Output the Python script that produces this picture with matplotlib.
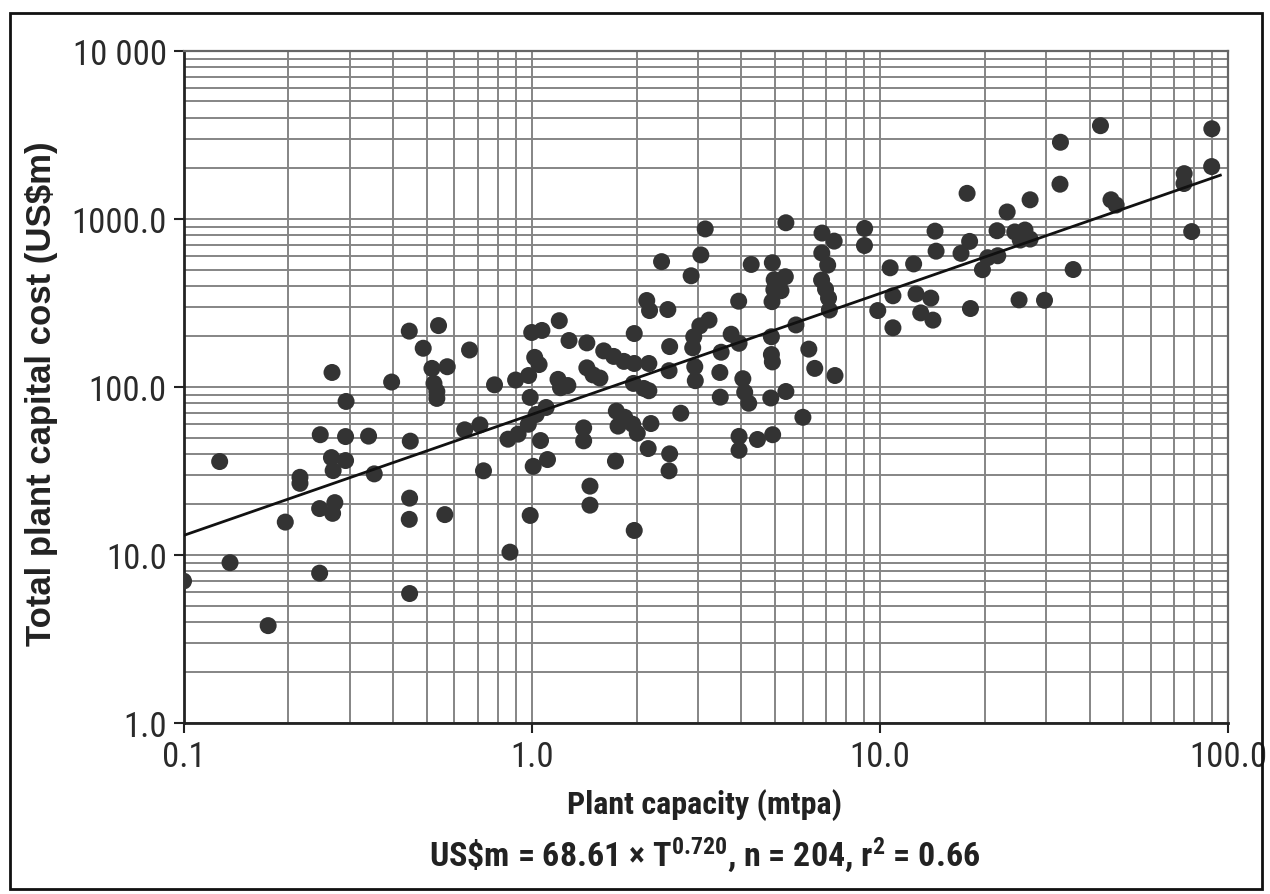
import numpy as np
import matplotlib
matplotlib.use("Agg")
import matplotlib.pyplot as plt
from matplotlib import font_manager as fm
from matplotlib.ticker import FixedLocator, LogLocator, NullFormatter
from matplotlib.patches import Rectangle

# ---------------- data ----------------
capacity = [
    0.10, 0.127, 0.136, 0.175, 0.196, 0.216, 0.216, 0.247, 0.246, 0.246,
    0.267, 0.266, 0.269, 0.272, 0.268, 0.293, 0.292, 0.292, 0.340, 0.353,
    0.396, 0.445, 0.448, 0.446, 0.445, 0.446, 0.488, 0.517, 0.524, 0.534,
    0.534, 0.540, 0.563, 0.572, 0.642, 0.663, 0.710, 0.727, 0.782, 0.855,
    0.866, 0.899, 0.914, 0.978, 0.98, 1.00, 0.99, 0.99, 1.01, 1.02,
    1.07, 1.05, 1.06, 1.03, 1.10, 1.11, 1.20, 1.19, 1.21, 1.27,
    1.28, 1.44, 1.41, 1.41, 1.44, 1.50, 1.57, 1.47, 1.47, 1.61,
    1.72, 1.75, 1.85, 1.95, 1.77, 2.01, 1.74, 1.84, 1.97, 1.97,
    1.96, 2.10, 2.17, 2.17, 1.97, 2.14, 2.18, 2.20, 2.16, 2.36,
    2.46, 2.49, 2.48, 2.49, 2.48, 2.68, 2.87, 3.06, 3.15, 2.94,
    2.92, 2.90, 2.95, 3.04, 3.23, 3.50, 3.47, 3.48, 3.74, 3.94,
    3.93, 3.94, 3.94, 4.04, 4.09, 4.20, 4.27, 4.45, 4.91, 4.97,
    5.35, 4.96, 5.20, 4.90, 4.88, 4.88, 4.91, 4.86, 5.37, 4.92,
    5.37, 5.74, 6.01, 6.25, 6.50, 7.43, 6.82, 7.39, 6.81, 7.08,
    6.80, 6.98, 7.12, 7.16, 9.04, 9.03, 9.86, 10.7, 10.9, 10.9,
    12.5, 12.7, 13.1, 14.0, 14.2, 14.4, 14.5, 17.8, 18.1, 17.1,
    18.2, 19.7, 20.4, 21.8, 21.7, 23.2, 24.4, 26.1, 27.0, 25.3,
    25.1, 27.0, 29.7, 33.0, 32.9, 35.9, 43.0, 46.1, 47.7, 74.8,
    74.7, 78.6, 89.8, 89.7,
]
cost = [
    7.0, 36, 9.0, 3.8, 15.7, 29, 26.7, 52, 18.9, 7.8,
    122, 38, 31.8, 20.5, 17.7, 82, 50.7, 36.5, 51, 30.4,
    107, 215, 47.6, 21.8, 16.3, 5.9, 170, 129, 105, 94,
    85.5, 232, 17.4, 132, 55.6, 166, 59.5, 31.7, 103, 48.9,
    10.4, 110, 52.4, 60, 117, 211, 86.7, 17.2, 33.7, 150,
    217, 136, 48, 68.6, 75.5, 37, 248, 111, 99, 102,
    189, 183, 57.1, 47.8, 130, 118, 113, 25.7, 19.8, 164,
    152, 71.8, 66, 60, 58.5, 53, 36.2, 142, 138, 208,
    105, 98, 95, 138, 14.0, 327, 285, 60.6, 43, 557,
    289, 174, 125, 40, 31.7, 69.8, 459, 611, 872, 132,
    199, 171, 109, 231, 250, 161, 122, 87, 206, 182,
    324, 50.8, 42, 112, 93, 80, 536, 48.7, 549, 435,
    453, 379, 374, 322, 199, 156, 141, 86, 94, 52,
    949, 234, 66, 168, 129, 117, 824, 738, 627, 531,
    433, 382, 338, 287, 878, 695, 285, 512, 349, 225,
    540, 358, 276, 338, 250, 846, 643, 1420, 735, 624,
    293, 499, 588, 604, 851, 1100, 837, 859, 759, 749,
    330, 1300, 328, 2860, 1610, 500, 3590, 1300, 1210, 1860,
    1625, 841, 3440, 2050,
]
fit_coef = 68.61
fit_exp = 0.720
fit_range = [0.1, 95.0]

x_ticks = [0.1, 1, 10, 100]
x_ticklabels = ["0.1", "1.0", "10.0", "100.0"]
y_ticks = [1, 10, 100, 1000, 10000]
y_ticklabels = ["1.0", "10.0", "100.0", "1000.0", "10 000"]

x_label = "Plant capacity (mtpa)"
y_label = "Total plant capital cost (US$m)"
caption = r"US\$m = 68.61 × T$^{\mathbf{0.720}}$, n = 204, r$^{\mathbf{2}}$ = 0.66"

# ---------------- fonts ----------------
names = {f.name for f in fm.fontManager.ttflist}
narrow = next((n for n in ["Liberation Sans Narrow", "Roboto Condensed",
                           "DejaVu Sans Condensed", "Open Sans Condensed",
                           "Liberation Sans"] if n in names), "DejaVu Sans")
wide = "Liberation Sans" if "Liberation Sans" in names else "DejaVu Sans"
plt.rcParams["font.family"] = [narrow, "DejaVu Sans"]
plt.rcParams["mathtext.fontset"] = "custom"
plt.rcParams["mathtext.rm"] = narrow
plt.rcParams["mathtext.bf"] = narrow + ":bold"
plt.rcParams["mathtext.it"] = narrow

# ---------------- figure ----------------
fig = plt.figure(figsize=(12.7, 8.95), dpi=100)
ax = fig.add_axes([0.1445, 0.191, 0.8225, 0.751])

ax.set_xscale("log")
ax.set_yscale("log")
ax.set_xlim(0.1, 100)
ax.set_ylim(1, 10000)

ax.xaxis.set_major_locator(FixedLocator(x_ticks))
ax.set_xticklabels(x_ticklabels)
ax.yaxis.set_major_locator(FixedLocator(y_ticks))
ax.set_yticklabels(y_ticklabels)
ax.xaxis.set_minor_locator(LogLocator(base=10, subs=np.arange(2, 10)))
ax.yaxis.set_minor_locator(LogLocator(base=10, subs=np.arange(2, 10)))
ax.xaxis.set_minor_formatter(NullFormatter())
ax.yaxis.set_minor_formatter(NullFormatter())

ax.grid(which="both", color="#858585", linewidth=1.4, zorder=0)
ax.set_axisbelow(True)
ax.tick_params(which="major", direction="out", length=7, width=1.5,
               labelsize=25, pad=5, colors="#222222")
ax.tick_params(which="minor", length=0)
for lab in ax.get_xticklabels() + ax.get_yticklabels():
    lab.set_color("#2a2a2a")

for s in ["left", "bottom"]:
    ax.spines[s].set_linewidth(2.0)
    ax.spines[s].set_color("#222222")
for s in ["top", "right"]:
    ax.spines[s].set_linewidth(1.6)
    ax.spines[s].set_color("#666666")

ax.scatter(capacity, cost, s=150, color="#333333", edgecolors="none", zorder=3)

xs = np.array(fit_range)
ax.plot(xs, fit_coef * xs ** fit_exp, color="#111111", linewidth=2.0, zorder=4)

fig.text(0.555, 0.101, x_label, ha="center", va="center",
         fontsize=23, fontweight="bold", color="#222222")
fig.text(0.555, 0.045, caption, ha="center", va="center",
         fontsize=24.5, fontweight="bold", color="#222222")
fig.text(0.033, 0.56, y_label, ha="center", va="center", rotation=90,
         fontsize=25, fontweight="bold", color="#222222", family=[wide, "DejaVu Sans"])

fig.patches.append(Rectangle((0.0079, 0.0056), 0.986, 0.979, transform=fig.transFigure,
                             fill=False, edgecolor="#111111", linewidth=2.0))

fig.savefig("out.png", dpi=100)
